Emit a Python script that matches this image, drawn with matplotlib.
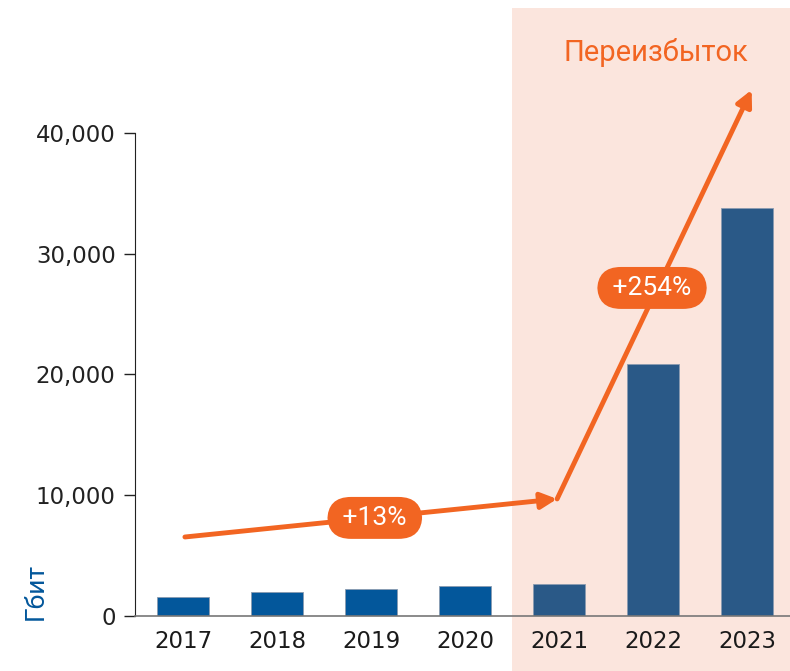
import matplotlib.pyplot as plt
import matplotlib.transforms as mtransforms
from matplotlib.patches import Rectangle
from matplotlib.ticker import FuncFormatter

years = ['2017', '2018', '2019', '2020', '2021', '2022', '2023']
values = [1570, 1990, 2240, 2480, 2650, 20870, 33790]
yticks = [0, 10000, 20000, 30000, 40000]

# trend arrow points (x as year index, y in Gbit)
trend_x = [0.02, 3.98, 6.05]
trend_y = [6540, 9690, 43560]
growth_labels = ['+13%', '+254%']
label_pos = [(2.04, 8120), (4.99, 27160)]

orange = '#F26522'
blue = '#03579B'
blue_dark = '#2A5987'
shade = '#FBE5DD'

fig = plt.figure(figsize=(7.9, 6.71), dpi=100)
ax = fig.add_axes([0.1709, 0.082, 0.829, 0.72])

x = list(range(len(years)))
colors = [blue] * 4 + [blue_dark] * 3
ax.bar(x, values, width=0.55, color=colors, edgecolor='#8a9bb0',
       linewidth=0.6, zorder=2)

ax.set_xlim(-0.511, 6.457)
ax.set_ylim(0, 40000)
ax.set_xticks(x)
ax.set_xticklabels(years)
ax.set_yticks(yticks)
ax.yaxis.set_major_formatter(FuncFormatter(lambda v, p: f'{int(v):,}'))
ax.tick_params(axis='x', length=0, pad=10, labelsize=16.5, colors='#1a1a1a')
ax.tick_params(axis='y', length=8, width=1, pad=6, labelsize=16.5,
               colors='#222222')

for s in ['top', 'right']:
    ax.spines[s].set_visible(False)
ax.spines['left'].set_color('#222222')
ax.spines['bottom'].set_color('#777777')
ax.spines['bottom'].set_linewidth(1.2)

# shaded oversupply zone, spans the figure height
trans = mtransforms.blended_transform_factory(ax.transData, fig.transFigure)
ax.add_patch(Rectangle((3.5, 0), 4, 0.988, transform=trans, color=shade,
                       zorder=0.5, clip_on=False, linewidth=0))

# trend arrows
for i in range(2):
    ax.annotate('', xy=(trend_x[i + 1], trend_y[i + 1]),
                xytext=(trend_x[i], trend_y[i]),
                arrowprops=dict(arrowstyle='-|>', color=orange, lw=3.5,
                                mutation_scale=24, shrinkA=0, shrinkB=0),
                annotation_clip=False, zorder=3)

for lab, (lx, ly) in zip(growth_labels, label_pos):
    ax.text(lx, ly, ' ' + lab + ' ', ha='center', va='center', color='white',
            fontsize=19, family='Roboto', zorder=4,
            bbox=dict(boxstyle='round,pad=0.34,rounding_size=0.9',
                      fc=orange, ec='none'))

fig.text(656 / 790, 0.9225, 'Переизбыток', ha='center', va='center',
         color=orange, fontsize=21, family='Roboto')
fig.text(36 / 790, 0.118, 'Гбит', ha='center', va='center', rotation=90,
         color=blue, fontsize=19, family='Roboto')

fig.savefig('out.png', dpi=100)
